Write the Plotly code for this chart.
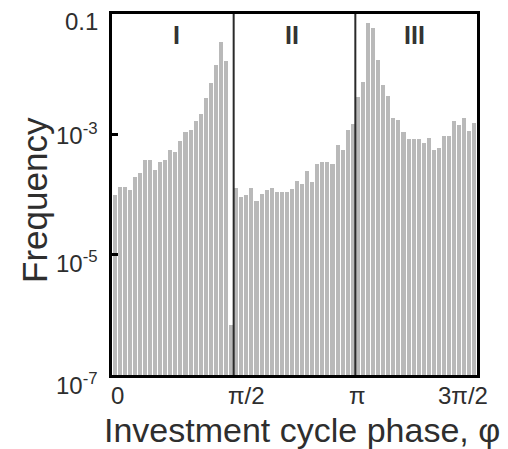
import numpy as np
import plotly.graph_objects as go

# ---- data ----
region_I = [9.8e-5, 1.34e-4, 1.34e-4, 1.2e-4, 1.95e-4, 2.3e-4, 3.7e-4, 3.7e-4,
            2.6e-4, 3.5e-4, 3.7e-4, 5.5e-4, 5.1e-4, 7.8e-4, 1.1e-3, 1.17e-3,
            1.66e-3, 2.2e-3, 4.0e-3, 7.1e-3, 1.41e-2, 3.4e-2, 1.66e-2, 6.8e-7]
region_II = [1.27e-4, 9.2e-5, 9.8e-5, 1.27e-4, 7.8e-5, 1.02e-4, 1.19e-4, 1.3e-4,
             1.12e-4, 1.12e-4, 1.12e-4, 1.24e-4, 1.68e-4, 1.48e-4, 2.47e-4, 1.6e-4,
             3.18e-4, 3.52e-4, 3.52e-4, 3.18e-4, 6.7e-4, 5.5e-4, 1.18e-3, 1.47e-3]
region_III = [4.2e-3, 7.4e-3, 7.0e-2, 5.9e-2, 1.72e-2, 6.6e-3, 4.4e-3, 1.85e-3,
              1.73e-3, 1.08e-3, 8.4e-4, 8.4e-4, 8.4e-4, 7.1e-4, 8.6e-4, 5.5e-4,
              6.0e-4, 9.5e-4, 9.5e-4, 1.67e-3, 1.43e-3, 1.85e-3, 1.14e-3, 1.53e-3]
frequency = region_I + region_II + region_III

x_tick_vals = [0, np.pi / 2, np.pi, 3 * np.pi / 2]
x_tick_text = ["0", "π/2", "π", "3π/2"]
y_tick_vals = [1e-1, 1e-3, 1e-5, 1e-7]
y_tick_text = ["0.1", "10<sup>-3</sup>", "10<sup>-5</sup>", "10<sup>-7</sup>"]
region_labels = ["I", "II", "III"]
region_label_x = [0.83, 2.33, 3.90]
region_label_y = 0.045
boundaries = [np.pi / 2, np.pi]

# ---- derived bin geometry ----
n_bins = len(frequency)
x_max = 3 * np.pi / 2
dx = x_max / n_bins
centers = (np.arange(n_bins) + 0.5) * dx

FONT = "Liberation Sans, Arial, sans-serif"
TXT = "#2e2e2e"

fig = go.Figure()
fig.add_trace(go.Bar(
    x=centers, y=frequency, width=dx * 0.8,
    marker=dict(color="#b9b9b9", line=dict(width=0)),
    showlegend=False,
))

# boundaries between phases
for b in boundaries:
    fig.add_shape(type="line", xref="x", yref="paper", x0=b, x1=b, y0=0, y1=1,
                  line=dict(color="#2a2a2a", width=2), layer="above")

# region labels
for lab, xv in zip(region_labels, region_label_x):
    fig.add_annotation(x=xv, y=np.log10(region_label_y), xref="x", yref="y", text=lab,
                       showarrow=False, yanchor="middle",
                       font=dict(family=FONT, size=25, color="#333333", weight="bold"))

# x tick labels (per-label horizontal nudges)
x_shift = [5, 13, 2, -14]
for v, t, s in zip(x_tick_vals, x_tick_text, x_shift):
    fig.add_annotation(x=v, y=0, xref="x", yref="paper", text=t, showarrow=False,
                       xshift=s, yshift=-20, yanchor="middle", xanchor="center",
                       font=dict(family=FONT, size=24, color=TXT))

# y tick labels
y_shift = [-7, 0, -7, -9]
for v, t, s in zip(y_tick_vals, y_tick_text, y_shift):
    fig.add_annotation(x=0, y=np.log10(v), xref="paper", yref="y", text=t,
                       showarrow=False, xanchor="right", yanchor="middle",
                       xshift=-12, yshift=s,
                       font=dict(family=FONT, size=24, color=TXT))

# axis titles
fig.add_annotation(x=0, y=0.485, xref="paper", yref="paper", text="Frequency",
                   textangle=-90, showarrow=False, xanchor="center", yanchor="middle",
                   xshift=-77, font=dict(family=FONT, size=35, color=TXT))
fig.add_annotation(x=0.52, y=0, xref="paper", yref="paper",
                   text="Investment cycle phase, φ", showarrow=False,
                   xanchor="center", yanchor="middle", yshift=-55,
                   font=dict(family=FONT, size=34, color=TXT))

fig.update_layout(
    width=508, height=449,
    margin=dict(l=112, r=31, t=14, b=74),
    plot_bgcolor="white", paper_bgcolor="white",
    bargap=0,
)
fig.update_xaxes(range=[0, x_max], showgrid=False, zeroline=False,
                 showline=True, mirror=True, linecolor="black", linewidth=3,
                 ticks="", showticklabels=False)
fig.update_yaxes(type="log", range=[-7, -1], showgrid=False, zeroline=False,
                 showline=True, mirror=True, linecolor="black", linewidth=3,
                 tickvals=y_tick_vals, ticks="inside", ticklen=6, tickwidth=3,
                 tickcolor="black", showticklabels=False)

fig.write_html("out.html")
